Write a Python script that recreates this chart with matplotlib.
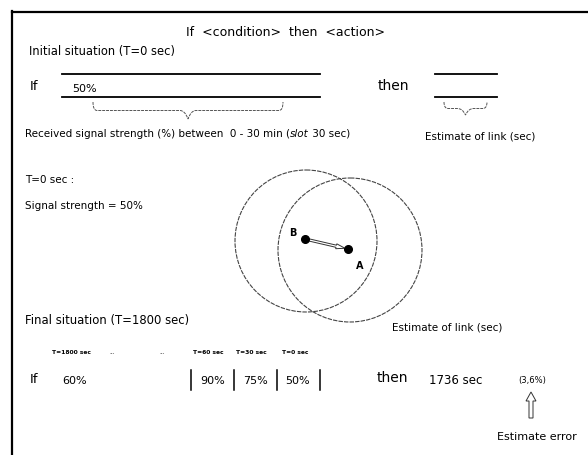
import matplotlib
matplotlib.use("Agg")
import matplotlib.pyplot as plt
from matplotlib.patches import Circle, FancyArrow, PathPatch
from matplotlib.path import Path

plt.rcParams['font.family'] = ['DejaVu Sans']

# data
title = "If  <condition>  then  <action>"
initial_strength = "50%"
initial_time = "T=0 sec"
final_times = ["T=1800 sec", "...", "...", "T=60 sec", "T=30 sec", "T=0 sec"]
final_strengths = ["60%", "", "", "90%", "75%", "50%"]
final_estimate = "1736 sec"
estimate_error = "(3,6%)"

W, H = 588, 456
fig = plt.figure(figsize=(W / 100, H / 100), dpi=100)
ax = fig.add_axes([0, 0, 1, 1])
ax.set_xlim(0, W)
ax.set_ylim(H, 0)
ax.axis('off')

# frame (top and left only)
ax.plot([12, W], [12.5, 12.5], color='black', lw=1.6)
ax.plot([12, 12], [12, H], color='black', lw=1.6)


def brace(x0, x1, y0, depth, color='#555555'):
    """Curly brace opening upward, tip pointing down."""
    xm = (x0 + x1) / 2
    h = depth / 2
    verts = [(x0, y0), (x0, y0 + h), (x0 + 4, y0 + h), (x0 + 8, y0 + h),
             (xm - 8, y0 + h), (xm - 3, y0 + h), (xm, y0 + depth),
             (xm + 3, y0 + h), (xm + 8, y0 + h),
             (x1 - 8, y0 + h), (x1 - 4, y0 + h), (x1, y0 + h), (x1, y0)]
    codes = [Path.MOVETO, Path.CURVE3, Path.CURVE3, Path.LINETO,
             Path.LINETO, Path.CURVE3, Path.CURVE3, Path.CURVE3, Path.CURVE3,
             Path.LINETO, Path.LINETO, Path.CURVE3, Path.CURVE3]
    ax.add_patch(PathPatch(Path(verts, codes), fill=False, edgecolor=color,
                           lw=0.7, linestyle=(0, (3, 1))))


ax.text(286, 33, title, ha='center', va='center', fontsize=9)

# initial situation
ax.text(29, 52, "Initial situation (T=0 sec)", va='center', fontsize=8.3)
ax.text(30, 86, "If", va='center', fontsize=9.5)
ax.plot([62, 320], [74.5, 74.5], color='black', lw=1.3)
ax.plot([62, 320], [98, 98], color='black', lw=1.3)
ax.text(72, 89, initial_strength, va='center', fontsize=8)
brace(93, 283, 103, 17)

t1 = ax.text(25, 134, "Received signal strength (%) between  0 - 30 min (",
             va='center', fontsize=7.5)
fig.canvas.draw()
r = fig.canvas.get_renderer()
bb = t1.get_window_extent(r).transformed(ax.transData.inverted())
t2 = ax.text(bb.x1, 134, "slot", va='center', fontsize=7.5, style='italic')
bb2 = t2.get_window_extent(r).transformed(ax.transData.inverted())
ax.text(bb2.x1, 134, " 30 sec)", va='center', fontsize=7.5)

ax.text(378, 86, "then", va='center', fontsize=10)
ax.plot([435, 497], [74.5, 74.5], color='black', lw=1.3)
ax.plot([435, 497], [98, 98], color='black', lw=1.3)
brace(444, 487, 103, 13)
ax.text(425, 137, "Estimate of link (sec)", va='center', fontsize=7.5)

# middle: two ranges
ax.text(25, 180, initial_time + " :", va='center', fontsize=7.5)
ax.text(25, 206, "Signal strength = " + initial_strength, va='center', fontsize=7.5)
for cx, cy, rad in [(306, 242, 71), (350, 251, 72)]:
    ax.add_patch(Circle((cx, cy), rad, fill=False, edgecolor='#444444',
                        lw=0.8, linestyle=(0, (4, 1))))
bx, by, axx, ay = 305, 240, 348, 250
ax.add_patch(FancyArrow(bx, by, axx - bx - 3, ay - by - 0.7, width=2.2,
                        head_width=5, head_length=9, length_includes_head=True,
                        facecolor='white', edgecolor='#333333', lw=0.7))
ax.plot([bx, axx], [by, ay], 'o', color='black', ms=5.5)
ax.text(293, 233, "B", ha='center', va='center', fontsize=7, fontweight='bold')
ax.text(360, 266, "A", ha='center', va='center', fontsize=7, fontweight='bold')
ax.text(392, 328, "Estimate of link (sec)", va='center', fontsize=7.5)

# final situation
ax.text(25, 321, "Final situation (T=1800 sec)", va='center', fontsize=8.4)
time_x = [52, 109, 159, 193, 236, 282]
value_x = [62, 0, 0, 200, 243, 285]
for tx, lab in zip(time_x, final_times):
    ax.text(tx, 353, lab, va='center', fontsize=4.3,
            fontweight='bold' if lab.startswith('T') else 'normal')
for vx, val in zip(value_x, final_strengths):
    if val:
        ax.text(vx, 381, val, va='center', fontsize=8)
for sx in [190.5, 234, 276.5, 320]:
    ax.plot([sx, sx], [371, 391], color='black', lw=1.1)
ax.text(30, 380, "If", va='center', fontsize=9.5)
ax.text(377, 378, "then", va='center', fontsize=10)
ax.text(429, 381, final_estimate, va='center', fontsize=8.5)
ax.text(518, 381, estimate_error, va='center', fontsize=6)
ax.add_patch(FancyArrow(531, 419, 0, -26, width=4, head_width=10, head_length=9,
                        length_includes_head=True, facecolor='white',
                        edgecolor='#333333', lw=0.7))
ax.text(497, 437, "Estimate error", va='center', fontsize=8)

fig.savefig("out.png", dpi=100)
